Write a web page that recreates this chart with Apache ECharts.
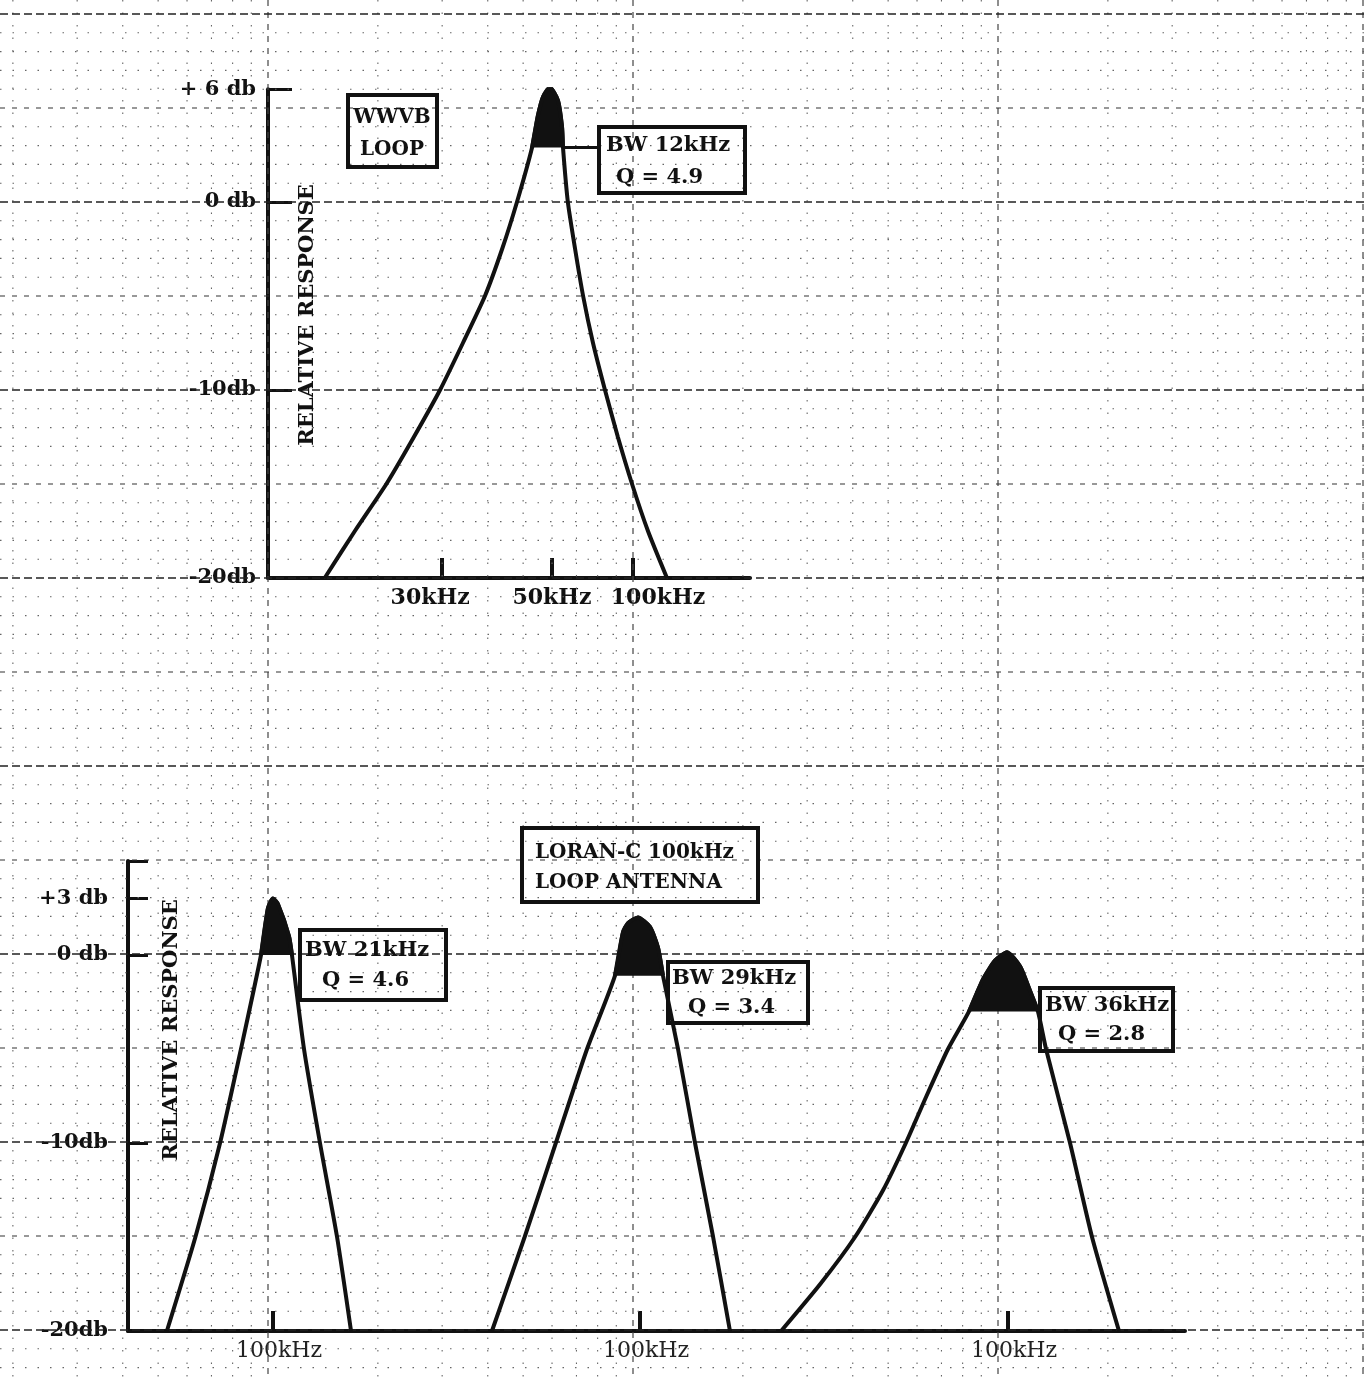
<!DOCTYPE html>
<html>
<head>
<meta charset="utf-8">
<title>WWVB / LORAN-C loop antenna response</title>
<script src="https://cdn.jsdelivr.net/npm/echarts@6/dist/echarts.min.js"></script>
<style>
html, body { margin: 0; padding: 0; background: #fff; }
#chart { width: 1368px; height: 1380px; }
</style>
</head>
<body>
<div id="chart"></div>
<script>
// --- data (kHz / dB) ---
// WWVB loop (upper plot)
var wwvbFreq = [14.3, 17.3, 21.1, 25.1, 29.6, 34.2, 39.3, 43.8, 48.1, 52.9, 54.9, 56.7, 59.2, 62.3, 63.9, 64.3, 66.3, 69.4, 73.0, 77.7, 83.8, 90.9, 99.4, 109.9, 123.9];
var wwvbDb   = [-20, -17.5, -15, -12.5, -10, -7.5, -5, -2.5, 0, 2.9, 4.6, 5.6, 6.1, 5.4, 4.0, 2.9, 0, -2.5, -5, -7.5, -10, -12.5, -15, -17.5, -20];

// LORAN-C loop, three versions (lower plot)
var loranFreqA = [51.2, 61.3, 71.6, 81.7, 92.7, 96.9, 100, 103.2, 110.6, 112.7, 121.6, 134.5, 149.8, 163.6];
var loranDbA   = [-20, -15, -10, -5, 0, 2.5, 3.0, 2.7, 1.0, 0, -5, -10, -15, -20];
var loranFreqB = [39.3, 48.3, 58.8, 71.6, 85.4, 89.8, 92.7, 98.7, 106.5, 112.0, 115.6, 127.1, 141.5, 158.6, 176.4];
var loranDbB   = [-20, -15, -10, -5, -1.1, 1.2, 1.7, 2.0, 1.5, 0.4, -1.1, -5, -10, -15, -20];
var loranFreqC = [23.9, 30.6, 38.1, 45.5, 52.5, 59.8, 68.5, 78.2, 85.4, 92.1, 99.4, 107.9, 114.9, 120.8, 127.1, 147.9, 169.9, 201.4];
var loranDbC   = [-20, -17.5, -15, -12.5, -10, -7.5, -5, -3.0, -1.3, -0.3, 0.15, -0.6, -1.9, -3.0, -5, -10, -15, -20];

// blackened bandwidth region of each curve: [from kHz, to kHz] and its floor in dB
var bandEdges = [[52.9, 64.3], [92.7, 112.7], [85.4, 115.6], [78.2, 120.8]];
var bandFloor = [2.9, 0, -1.1, -3.0];

// tick labels
var topTickFreq = [30, 60, 100];
var topTickText = ['30kHz', '50kHz', '100kHz'];
var topDbTicks = [6, 0, -10, -20];
var topDbText  = ['+ 6 db', '0 db', '-10db', '-20db'];
var botDbTicks = [3, 0, -10, -20];
var botDbText  = ['+3 db', '0 db', '-10db', '-20db'];

// graph paper ruling (semi-log)
var paperMant = [1, 2, 3, 4, 5, 6, 7, 8, 9];
var paperDecade = [0.1, 1, 10, 100, 1000];

// --- layout ---
var DEC = 365;            // px per decade on the paper
var PAPER_XMIN = Math.pow(10, -268 / DEC), PAPER_XMAX = Math.pow(10, 1100 / DEC);
var PAPER_YMIN = -62.66, PAPER_YMAX = 10.745;
var FONT = 'DejaVu Serif';

function logRange(left, width, ref) {
    return [100 * Math.pow(10, (left - ref) / DEC), 100 * Math.pow(10, (left + width - ref) / DEC)];
}
function pairs(fs, ds) {
    return fs.map(function (f, i) { return [f, ds[i]]; });
}
function band(fs, ds, k) {
    return pairs(fs, ds).filter(function (p) { return p[0] >= bandEdges[k][0] - 1e-6 && p[0] <= bandEdges[k][1] + 1e-6; });
}
function pick(vals, texts, v) {
    for (var i = 0; i < vals.length; i++) {
        if (Math.abs(v - vals[i]) <= Math.abs(vals[i]) * 0.01 + 1e-6) return texts[i];
    }
    return '';
}

var paperV = [];
paperDecade.forEach(function (d) {
    paperMant.forEach(function (m) {
        var v = m * d;
        if (v >= PAPER_XMIN && v <= PAPER_XMAX) paperV.push([v, 0, m]);
    });
});
var paperH = [];
for (var r = -62; r <= 10; r++) paperH.push([1, r]);

var chart = echarts.init(document.getElementById('chart'));

var topX = logRange(268, 482, 633);
var bx1 = logRange(128, 1057, 273);
var bx2 = logRange(128, 1057, 640);
var bx3 = logRange(128, 1057, 1008);

var lineCol = '#111';

function curve(data, xi, yi) {
    return {
        type: 'line', xAxisIndex: xi, yAxisIndex: yi, data: data, symbol: 'none',
        smooth: 0.2, z: 5, silent: true,
        lineStyle: { color: lineCol, width: 4 }
    };
}
function fill(data, xi, yi, floor) {
    return {
        type: 'line', xAxisIndex: xi, yAxisIndex: yi, data: data, symbol: 'none',
        smooth: 0.2, z: 6, silent: true,
        lineStyle: { color: lineCol, width: 4 },
        areaStyle: { color: lineCol, opacity: 1, origin: floor }
    };
}

function bottomX(range, g, showLine) {
    return {
        type: 'log', gridIndex: g, min: range[0], max: range[1],
        axisLine: { show: showLine, onZero: false, lineStyle: { color: lineCol, width: 4 } },
        axisTick: { show: true, inside: true, length: 20, customValues: [100], lineStyle: { color: lineCol, width: 4 } },
        axisLabel: {
            show: true, customValues: [100], margin: 9, color: '#222', fontFamily: FONT, fontSize: 22,
            formatter: function () { return '{s|100kHz}'; },
            rich: { s: { padding: [0, 0, 0, 12], fontFamily: FONT, fontSize: 22, color: '#222' } }
        },
        splitLine: { show: false }, minorTick: { show: false }
    };
}
function hiddenY(g, min, max) {
    return { type: 'value', gridIndex: g, min: min, max: max, show: false, splitLine: { show: false } };
}

var option = {
    backgroundColor: '#fff',
    animation: false,
    textStyle: { fontFamily: FONT },
    grid: [
        { left: 0, top: 0, width: 1368, height: 1380, outerBoundsMode: 'none' },
        { left: 268, top: 89.2, width: 482, height: 488.8, outerBoundsMode: 'none' },
        { left: 128, top: 861, width: 1057, height: 470, outerBoundsMode: 'none' },
        { left: 128, top: 861, width: 1057, height: 470, outerBoundsMode: 'none' },
        { left: 128, top: 861, width: 1057, height: 470, outerBoundsMode: 'none' }
    ],
    xAxis: [
        { type: 'log', gridIndex: 0, min: PAPER_XMIN, max: PAPER_XMAX, show: false, splitLine: { show: false } },
        {
            type: 'log', gridIndex: 1, min: topX[0], max: topX[1],
            axisLine: { onZero: false, lineStyle: { color: lineCol, width: 4 } },
            axisTick: { inside: true, length: 20, customValues: topTickFreq, lineStyle: { color: lineCol, width: 4 } },
            axisLabel: {
                customValues: topTickFreq, margin: 9, color: lineCol, fontFamily: FONT, fontSize: 22, fontWeight: 'bold',
                formatter: function (v) {
                    var t = pick(topTickFreq, topTickText, v);
                    if (t === '30kHz') return '{l|' + t + '}';
                    if (t === '100kHz') return '{r|' + t + '}';
                    return t;
                },
                rich: {
                    l: { padding: [0, 24, 0, 0], fontFamily: FONT, fontSize: 22, fontWeight: 'bold', color: lineCol },
                    r: { padding: [0, 0, 0, 50], fontFamily: FONT, fontSize: 22, fontWeight: 'bold', color: lineCol }
                }
            },
            splitLine: { show: false }, minorTick: { show: false }
        },
        bottomX(bx1, 2, true),
        bottomX(bx2, 3, false),
        bottomX(bx3, 4, false)
    ],
    yAxis: [
        { type: 'value', gridIndex: 0, min: PAPER_YMIN, max: PAPER_YMAX, show: false, splitLine: { show: false } },
        {
            type: 'value', gridIndex: 1, min: -20, max: 6,
            axisLine: { show: true, onZero: false, lineStyle: { color: lineCol, width: 4 } },
            axisTick: { show: true, inside: true, length: 24, customValues: [6, 0, -10], lineStyle: { color: lineCol, width: 3 } },
            axisLabel: {
                customValues: topDbTicks, margin: 12, color: lineCol, fontSize: 21, fontWeight: 'bold', fontFamily: FONT,
                formatter: function (v) { return pick(topDbTicks, topDbText, v); }
            },
            splitLine: { show: false }
        },
        {
            type: 'value', gridIndex: 2, min: -20, max: 5,
            axisLine: { show: true, onZero: false, lineStyle: { color: lineCol, width: 4 } },
            axisTick: { show: true, inside: true, length: 20, customValues: [5, 3, 0, -10], lineStyle: { color: lineCol, width: 3 } },
            axisLabel: {
                customValues: botDbTicks, margin: 20, color: lineCol, fontSize: 21, fontWeight: 'bold', fontFamily: FONT,
                formatter: function (v) { return pick(botDbTicks, botDbText, v); }
            },
            splitLine: { show: false }
        },
        hiddenY(3, -20, 5),
        hiddenY(4, -20, 5)
    ],
    series: [
        // graph paper
        {
            type: 'custom', xAxisIndex: 0, yAxisIndex: 0, data: paperV, silent: true, z: 1,
            renderItem: function (params, api) {
                var v = api.value(0), m = api.value(2);
                var a = api.coord([v, PAPER_YMAX]), b = api.coord([v, PAPER_YMIN]);
                var st = m === 1 ? { stroke: '#444', lineWidth: 1.2, lineDash: [6, 6] }
                    : { stroke: '#666', lineWidth: 1.1, lineDash: [1.5, 11] };
                return { type: 'line', shape: { x1: a[0], y1: a[1], x2: b[0], y2: b[1] }, style: st };
            }
        },
        {
            type: 'custom', xAxisIndex: 0, yAxisIndex: 0, data: paperH, silent: true, z: 1,
            renderItem: function (params, api) {
                var r = api.value(1);
                var a = api.coord([PAPER_XMIN, r]), b = api.coord([PAPER_XMAX, r]);
                var st;
                if (r % 10 === 0) st = { stroke: '#222', lineWidth: 1.5, lineDash: [8, 4] };
                else if (r % 5 === 0) st = { stroke: '#333', lineWidth: 1.2, lineDash: [5, 7] };
                else st = { stroke: '#666', lineWidth: 1.1, lineDash: [1.5, 11] };
                return { type: 'line', shape: { x1: a[0], y1: a[1], x2: b[0], y2: b[1] }, style: st };
            }
        },
        // WWVB
        curve(pairs(wwvbFreq, wwvbDb), 1, 1),
        fill(band(wwvbFreq, wwvbDb, 0), 1, 1, bandFloor[0]),
        {
            type: 'line', xAxisIndex: 1, yAxisIndex: 1, symbol: 'none', silent: true, z: 5,
            data: [[bandEdges[0][1], bandFloor[0]], [81.2, bandFloor[0]]],
            lineStyle: { color: lineCol, width: 3 }
        },
        // LORAN-C
        curve(pairs(loranFreqA, loranDbA), 2, 2),
        fill(band(loranFreqA, loranDbA, 1), 2, 2, bandFloor[1]),
        curve(pairs(loranFreqB, loranDbB), 3, 3),
        fill(band(loranFreqB, loranDbB, 2), 3, 3, bandFloor[2]),
        curve(pairs(loranFreqC, loranDbC), 4, 4),
        fill(band(loranFreqC, loranDbC, 3), 4, 4, bandFloor[3])
    ],
    graphic: [
        box(348, 95, 89, 72),
        txt('WWVB', 392, 118, 'center', 20),
        txt('LOOP', 392, 150, 'center', 20),
        box(599, 127, 146, 66),
        txt('BW 12kHz', 606, 146, 'left', 21),
        txt('Q = 4.9', 616, 178, 'left', 21),
        box(522, 828, 236, 74),
        txt('LORAN-C 100kHz', 535, 853, 'left', 20),
        txt('LOOP ANTENNA', 535, 883, 'left', 20),
        box(300, 930, 146, 70),
        txt('BW 21kHz', 305, 951, 'left', 21),
        txt('Q = 4.6', 322, 981, 'left', 21),
        box(668, 962, 140, 61),
        txt('BW 29kHz', 672, 979, 'left', 21),
        txt('Q = 3.4', 688, 1008, 'left', 21),
        box(1040, 988, 133, 63),
        txt('BW 36kHz', 1045, 1006, 'left', 21),
        txt('Q = 2.8', 1058, 1035, 'left', 21),
        vtxt('RELATIVE RESPONSE', 308, 315),
        vtxt('RELATIVE RESPONSE', 172, 1030)
    ]
};

function box(x, y, w, h) {
    return {
        type: 'rect', z: 50, silent: true,
        shape: { x: x, y: y, width: w, height: h },
        style: { fill: 'transparent', stroke: lineCol, lineWidth: 4 }
    };
}
function txt(t, x, y, align, size) {
    return {
        type: 'text', z: 51, silent: true, x: x, y: y,
        style: { text: t, fill: lineCol, font: 'bold ' + size + 'px "' + FONT + '"', align: align, verticalAlign: 'middle' }
    };
}
function vtxt(t, x, y) {
    return {
        type: 'text', z: 51, silent: true, x: x, y: y, rotation: Math.PI / 2,
        style: { text: t, fill: lineCol, font: 'bold 21px "' + FONT + '"', align: 'center', verticalAlign: 'middle' }
    };
}

chart.setOption(option);
</script>
</body>
</html>
